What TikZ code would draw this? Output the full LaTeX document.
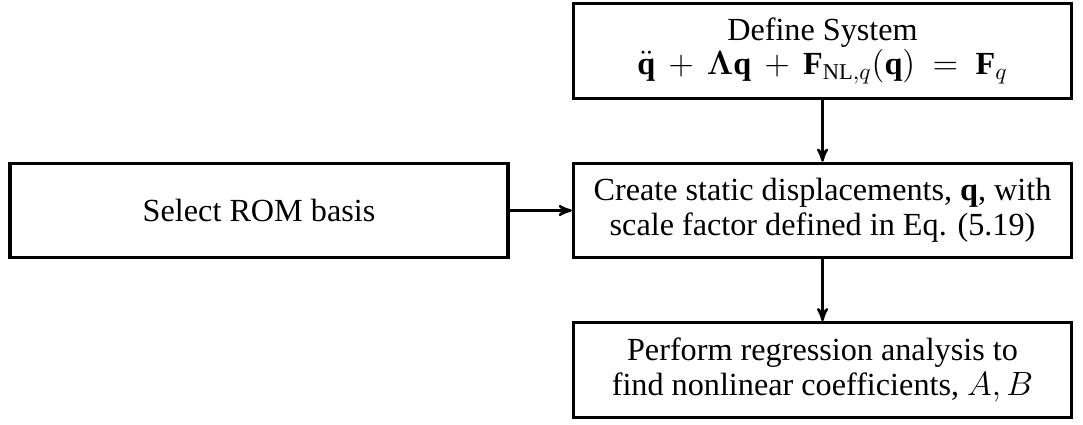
\documentclass[12pt,tikz,border=0pt]{standalone}
\usepackage{fontspec}
\setmainfont{Liberation Serif}
\usepackage{amsmath, amssymb}
\usepackage{bm}
\usetikzlibrary{arrows}

\begin{document}
\begin{tikzpicture}[>=stealth', block/.style = {draw, line width = 1.4pt, align = center, minimum width = 7.5cm, minimum height = 1.42cm, inner sep = 0pt, font = \fontsize{13.8}{14.8}\selectfont}]
\useasboundingbox (0,0) rectangle (16.31,-6.40);
\node[block] at (12.387,-0.768) (sys) {Define System\\
$\ddot{\mathbf{q}} \,+\, \bm{\Lambda}\mathbf{q} \,+\, \mathbf{F}_{\mathrm{NL},q}(\mathbf{q}) \ = \ \mathbf{F}_q$};
\node[block] at (3.901,-3.170) (rom) {Select ROM basis};
\node[block] at (12.387,-3.170) (disp) {Create static displacements, $\mathbf{q}$, with\\
scale factor defined in Eq. (5.19)};
\node[block] at (12.387,-5.572) (reg) {Perform regression analysis to\\
find nonlinear coefficients, $A, B$};
\draw[line width = 1pt, ->] (sys) -- (disp);
\draw[line width = 1pt, ->] (rom) -- (disp);
\draw[line width = 1pt, ->] (disp) -- (reg);
\end{tikzpicture}
\end{document}
